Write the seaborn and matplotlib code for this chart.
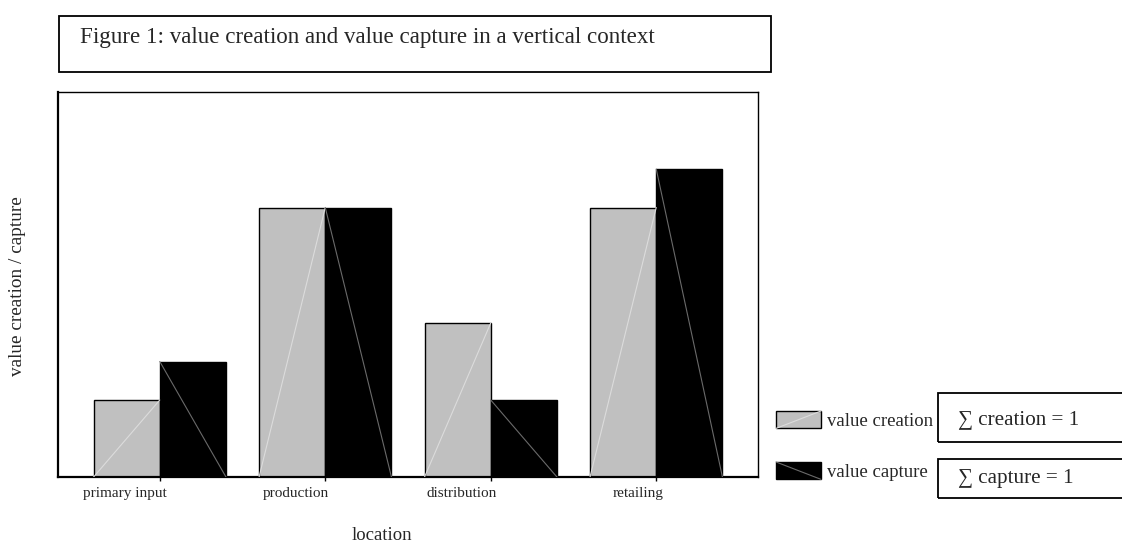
"""Value creation and value capture along a vertical chain (grouped bars)."""
import pandas as pd
import seaborn as sns
import matplotlib.pyplot as plt
import matplotlib.patches as mpatches
import matplotlib.transforms as mtransforms
from matplotlib.lines import Line2D
from matplotlib.legend_handler import HandlerBase

sns.set_style("white")
plt.rcParams["font.family"] = ["Liberation Serif", "DejaVu Serif"]


############################## Data.

LOCATIONS = ["primary input", "production", "distribution", "retailing"]
CREATION = [2, 7, 4, 7]
CAPTURE = [3, 7, 2, 8]
SERIES = ["value creation", "value capture"]

df = pd.DataFrame({
    "location": LOCATIONS * 2,
    "value": CREATION + CAPTURE,
    "series": [SERIES[0]] * len(LOCATIONS) + [SERIES[1]] * len(LOCATIONS),
})


############################## Plot parameters.

W, H = 1122, 545
GREY = "#c0c0c0"
DIAG = {SERIES[0]: ("#dcdcdc", "up"), SERIES[1]: ("#6a6a6a", "down")}
LABEL_SHIFT_PX = [-35, -29, -29, -18]  # tick labels sit left of their ticks

def fx(px):
    return px / W

def fy(py):
    return 1 - py / H


fig = plt.figure(figsize=(W / 100, H / 100), dpi=100)
ax = fig.add_axes([fx(58), fy(477), fx(758) - fx(58), fy(92) - fy(477)])

sns.barplot(data=df, x="location", y="value", hue="series",
    palette=[GREY, "black"], edgecolor="black", linewidth=1,
    width=0.8, saturation=1, legend=False, ax=ax)

# the odd diagonal strokes across each bar
n = len(LOCATIONS)
for i, bar in enumerate(ax.patches[:2 * n]):
    color, way = DIAG[SERIES[i // n]]
    x0, y0 = bar.get_x(), bar.get_y()
    x1, y1 = x0 + bar.get_width(), y0 + bar.get_height()
    ys = (y0, y1) if way == "up" else (y1, y0)
    ax.plot((x0, x1), ys, color=color, lw=0.8, zorder=3)

# a e s t h e t i c s
ax.set_ylim(0, 10)
ax.set_xlim(-0.615, 3.615)
ax.set_yticks([])
ax.set_xlabel("")
ax.set_ylabel("")
ax.tick_params(axis="x", direction="out", length=3, width=1, color="black",
               labelsize=11, pad=4.5, bottom=True)
for lab, dx in zip(ax.get_xticklabels(), LABEL_SHIFT_PX):
    lab.set_transform(lab.get_transform()
                      + mtransforms.ScaledTranslation(dx / 100, 0, fig.dpi_scale_trans))
for side, spine in ax.spines.items():
    spine.set_visible(True)
    spine.set_color("black")
    spine.set_linewidth(1.6 if side in ("left", "bottom") else 1.0)

fig.text(fx(382), fy(535), "location", fontsize=13.5, ha="center", va="center")
fig.text(fx(18), fy(286), "value creation / capture", fontsize=13.9,
         rotation=90, ha="center", va="center")


############################## Title box.

fig.patches.append(mpatches.Rectangle((fx(59), fy(72)), fx(771) - fx(59),
    fy(16) - fy(72), transform=fig.transFigure, fill=False,
    edgecolor="black", lw=1.3))
fig.text(fx(80), fy(37), "Figure 1: value creation and value capture in a vertical context",
         fontsize=16.6, ha="left", va="center")


############################## Legend with diagonal strokes.

class DiagHandler(HandlerBase):
    def __init__(self, color, way):
        super().__init__()
        self.color, self.way = color, way

    def create_artists(self, legend, orig, xd, yd, width, height, fontsize, trans):
        rect = mpatches.Rectangle((-xd, -yd), width, height,
            facecolor=orig.get_facecolor(), edgecolor="black", lw=1, transform=trans)
        ys = (-yd, -yd + height) if self.way == "up" else (-yd + height, -yd)
        line = Line2D((-xd, -xd + width), ys, color=self.color, lw=0.8, transform=trans)
        return [rect, line]

handles = [mpatches.Patch(facecolor=GREY), mpatches.Patch(facecolor="black")]
fig.legend(handles, SERIES, loc="upper left", bbox_to_anchor=(fx(776), fy(411)),
    frameon=False, fontsize=13.5, handlelength=2.4, handleheight=1.05,
    handletextpad=0.3, labelspacing=1.7, borderpad=0, borderaxespad=0,
    handler_map={handles[0]: DiagHandler(*DIAG[SERIES[0]]),
                 handles[1]: DiagHandler(*DIAG[SERIES[1]])})


############################## Sum boxes.

for top, bottom in [(393, 442), (459, 498)]:
    fig.patches.append(mpatches.Rectangle((fx(938), fy(bottom)), fx(200),
        fy(top) - fy(bottom), transform=fig.transFigure, fill=False,
        edgecolor="black", lw=1.3))
fig.text(fx(958), fy(420), "\u2211 creation = 1", fontsize=15.2, ha="left", va="center")
fig.text(fx(958), fy(478), "\u2211 capture = 1", fontsize=15.2, ha="left", va="center")


plt.savefig("out.png", dpi=100)
plt.close()
